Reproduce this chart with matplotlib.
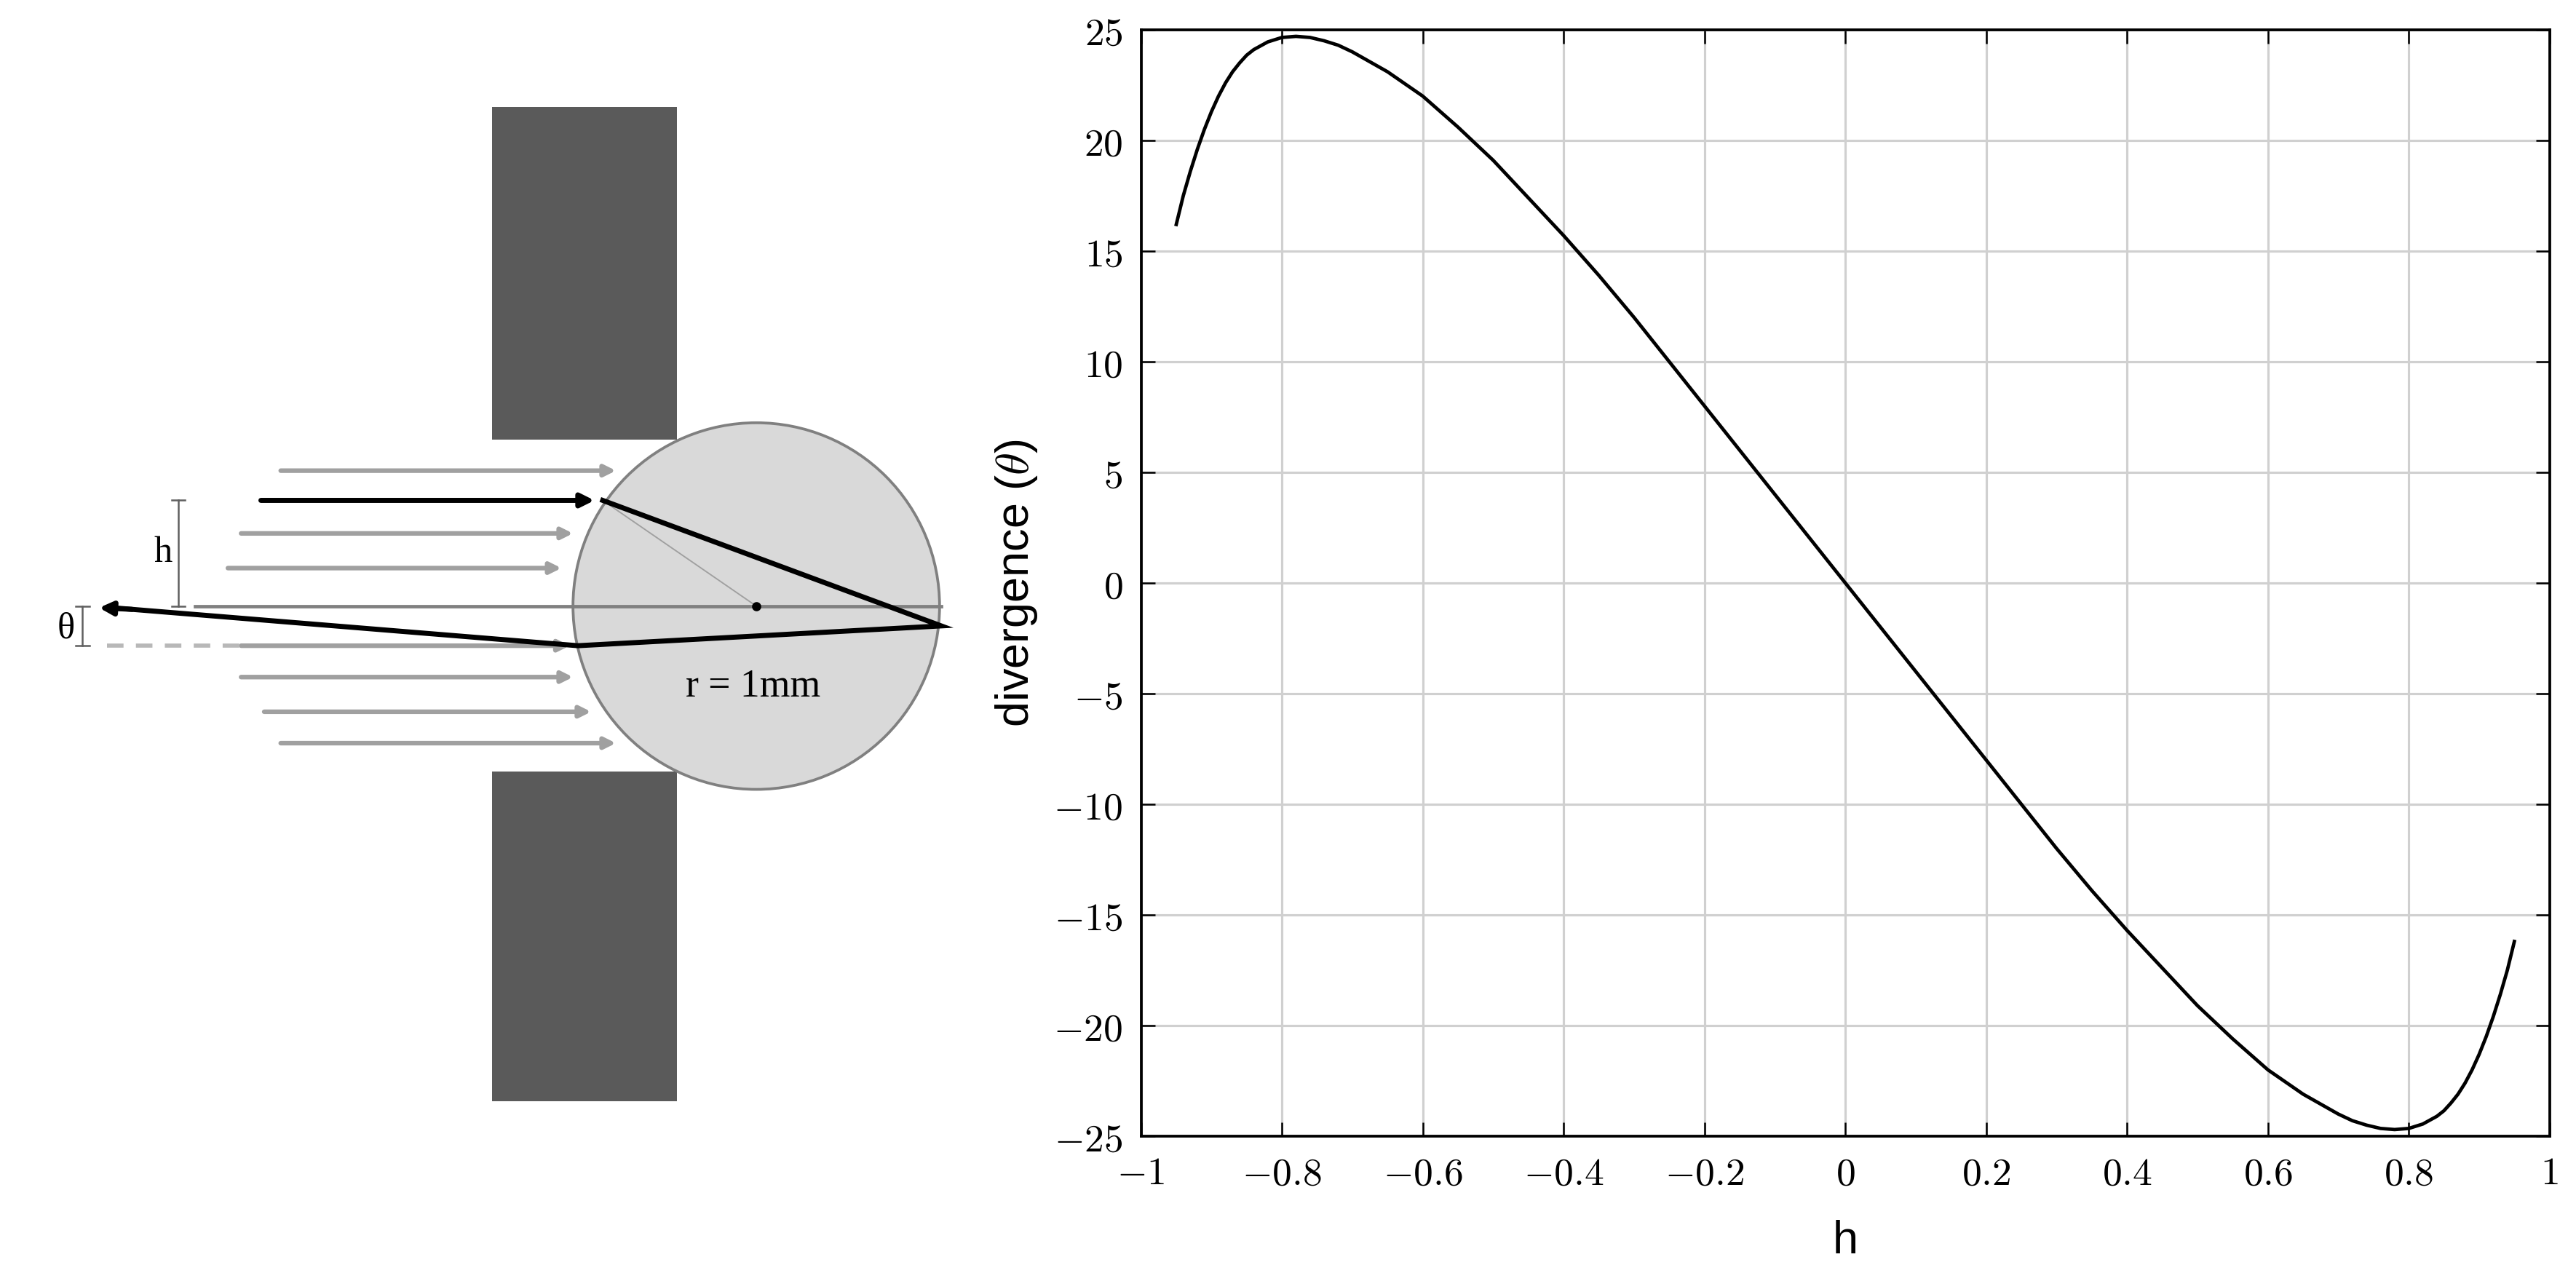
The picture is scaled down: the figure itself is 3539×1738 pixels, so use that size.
import numpy as np
import matplotlib
matplotlib.use("Agg")
import matplotlib.pyplot as plt
from matplotlib.patches import Rectangle, Circle

plt.rcParams['mathtext.fontset'] = 'cm'

h_left = [-0.95, -0.94, -0.93, -0.92, -0.91, -0.9, -0.89, -0.88, -0.87, -0.86, -0.85, -0.84, -0.82, -0.8,
          -0.78, -0.76, -0.74, -0.72, -0.7, -0.65, -0.6, -0.55, -0.5, -0.45, -0.4, -0.35, -0.3, -0.25,
          -0.2, -0.15, -0.1, -0.05]
div_left = [16.2, 17.5, 18.6, 19.6, 20.5, 21.3, 22.0, 22.6, 23.1, 23.5, 23.85, 24.1, 24.45, 24.65,
            24.7, 24.65, 24.5, 24.3, 24.0, 23.1, 22.0, 20.6, 19.1, 17.4, 15.7, 13.9, 12.0, 10.0,
            8.0, 6.0, 4.0, 2.0]
h_vals = h_left + [0.0] + [-v for v in h_left[::-1]]
div_vals = div_left + [0.0] + [-v for v in div_left[::-1]]
xticks = [-1, -0.8, -0.6, -0.4, -0.2, 0, 0.2, 0.4, 0.6, 0.8, 1]
yticks = [-25, -20, -15, -10, -5, 0, 5, 10, 15, 20, 25]

DPI = 227
fig = plt.figure(figsize=(3539 / DPI, 1738 / DPI), dpi=DPI)
W, H = 1560, 766

# ---------- left diagram ----------
axl = fig.add_axes([0, 0, 600 / W, 1])
axl.set_xlim(0, 600)
axl.set_ylim(H, 0)
axl.axis('off')
axl.add_patch(Rectangle((298, 65), 112, 201, color='#5a5a5a', lw=0))
axl.add_patch(Rectangle((298, 467), 112, 200, color='#5a5a5a', lw=0))
axl.add_patch(Circle((458, 367), 111, facecolor='#d9d9d9', edgecolor='#808080', lw=1.2, zorder=2))
grey = '#a0a0a0'
for y, x0, x1 in [(285, 170, 373), (323, 146, 347), (344, 138, 340), (391, 146, 345),
                  (410, 146, 347), (431, 160, 358), (450, 170, 373)]:
    axl.annotate('', xy=(x1, y), xytext=(x0, y),
                 arrowprops=dict(arrowstyle='-|>', color=grey, lw=2, mutation_scale=10, shrinkA=0, shrinkB=0))
axl.plot([118, 570], [367, 367], color='#808080', lw=1.5, zorder=3)
axl.plot([65, 146], [391, 391], color='#b8b8b8', lw=1.8, ls=(0, (4, 3)), zorder=3)
axl.plot([365, 458], [303, 367], color='#a0a0a0', lw=0.6, zorder=3)
axl.annotate('', xy=(360, 303), xytext=(158, 303),
             arrowprops=dict(arrowstyle='-|>', color='black', lw=2.2, mutation_scale=12, shrinkA=0, shrinkB=0))
axl.plot([365, 570, 350, 68], [303, 379, 391, 368], color='black', lw=2.2, zorder=4, solid_joinstyle='miter')
axl.annotate('', xy=(60, 368), xytext=(80, 369),
             arrowprops=dict(arrowstyle='-|>', color='black', lw=2.2, mutation_scale=12, shrinkA=0, shrinkB=0))
axl.plot([458], [367], 'o', color='black', ms=3, zorder=5)
axl.plot([108, 108], [303, 367], color='#606060', lw=0.8)
axl.plot([104, 112], [303, 303], color='#606060', lw=0.8)
axl.plot([104, 112], [367, 367], color='#606060', lw=0.8)
axl.text(99, 335, 'h', fontsize=16, family='Liberation Serif', ha='center', va='center')
axl.plot([50, 50], [367, 391], color='#606060', lw=0.8)
axl.plot([46, 54], [367, 367], color='#606060', lw=0.8)
axl.plot([46, 54], [391, 391], color='#606060', lw=0.8)
axl.text(40, 381, 'θ', fontsize=16, family='Liberation Serif', ha='center', va='center')
axl.text(456, 416, 'r = 1mm', fontsize=17, family='Liberation Serif', ha='center', va='center', zorder=5)

# ---------- right plot ----------
ax = fig.add_axes([691 / W, 1 - 688 / H, (1544 - 691) / W, (688 - 18) / H])
ax.plot(h_vals, div_vals, color='black', lw=1.5)
ax.set_xlim(-1, 1)
ax.set_ylim(-25, 25)
ax.set_xticks(xticks)
ax.set_yticks(yticks)
fmt = lambda v: '$%g$' % v
ax.set_xticklabels([fmt(v) for v in xticks], fontsize=17)
ax.set_yticklabels([fmt(v) for v in yticks], fontsize=17)
ax.grid(True, color='#d0d0d0', lw=1)
ax.tick_params(direction='in', length=6, top=True, right=True, pad=8)
for s in ax.spines.values():
    s.set_linewidth(1.2)
ax.set_xlabel('h', fontsize=20, family='Liberation Sans', labelpad=12)
ax.set_ylabel(r'divergence ($\theta$)', fontsize=20, family='Liberation Sans', labelpad=6)

fig.savefig('out.png', dpi=DPI)
